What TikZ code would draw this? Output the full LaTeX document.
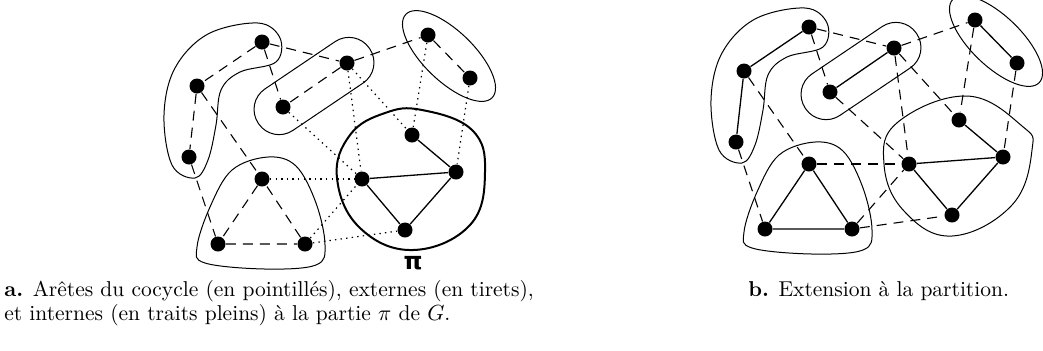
\documentclass[tikz,border=0pt]{standalone}
\usepackage{fontspec}
\newfontfamily\grecfont{DejaVu Sans}
\tikzset{
  sommet/.style={circle,fill=black,inner sep=0pt,minimum size=7.5pt},
  tiret/.style={line width=.55pt,dash pattern=on 5pt off 3.5pt},
  pointille/.style={line width=.6pt,dash pattern=on .7pt off 2.1pt},
  plein/.style={line width=.65pt},
  bulle/.style={line width=.5pt},
  legende/.style={anchor=base west,inner sep=0pt,font=\fontsize{10.75}{13}\selectfont}
}

\begin{document}
\begin{tikzpicture}[x=0.5pt,y=-0.5pt]
\useasboundingbox (0,0) rectangle (1043,350);
% les deux figures : sommets et bulles des parties
\foreach \s/\dx/\dy in {g/0/0,d/547/-15}{
  \begin{scope}[shift={(\dx,\dy)}]
  \foreach \p/\x/\y in {a1/262/42,a2/197/86,a3/189/157,b1/347/63,b2/283/107,c1/428/35,c2/470/78,
                        d1/262/179,d2/218/244,d3/305/244,p1/412/135,p2/456/172,p3/362/179,p4/405/230}
    \node[sommet] (\s\p) at (\x,\y) {};
  \draw[bulle] plot[smooth cycle,tension=.6] coordinates {(258,23) (280,38) (276,62) (240,72) (221,90)
    (216,125) (208,160) (195,178) (172,165) (164,115) (175,68) (208,34)};
  \draw[bulle,rounded corners=12.3pt,rotate around={34:(314,86)}] (247,61) rectangle (381,111);
  \draw[bulle,rotate around={-44:(449,56)}] (449,56) ellipse [x radius=60,y radius=25];
  \draw[bulle] plot[smooth cycle,tension=.6] coordinates {(268,157) (296,166) (316,203) (325,245)
    (316,265) (265,269) (205,263) (197,247) (210,207) (232,170)};
  \end{scope}
}
% partie pi
\draw[line width=1pt] plot[smooth cycle,tension=.7] coordinates {(422,110) (472,130) (485,172) (470,225)
  (413,250) (360,228) (337,178) (350,135) (385,113)};
\draw[bulle] plot[smooth cycle,tension=.7] coordinates {(967,96) (1022,126) (1032,150) (1012,205)
  (952,236) (904,211) (884,164) (898,122)};
\node (pi) at (413,263) {\grecfont\bfseries\fontsize{12}{14}\selectfont π};

% a. : aretes de la premiere figure
\draw[tiret] (ga1) -- (ga2) -- (ga3);
\draw[tiret] (gb1) -- (gb2);
\draw[tiret] (gc1) -- (gc2);
\draw[tiret] (gd1) -- (gd2) -- (gd3) -- (gd1);
\draw[tiret] (ga1) -- (gb1) -- (gc1);
\draw[tiret] (ga1) -- (gb2);
\draw[tiret] (ga2) -- (gd1);
\draw[tiret] (ga3) -- (gd2);
\foreach \u/\v in {b1/p3,b1/p1,b2/p3,c1/p1,c2/p2,d1/p3,d3/p3,d3/p4}
  \draw[pointille] (g\u) -- (g\v);
\draw[plein] (gp1) -- (gp2) -- (gp3) -- (gp4) -- (gp2);

% b. : extension a la partition
\draw[plein] (da1) -- (da2) -- (da3);
\draw[plein] (db1) -- (db2);
\draw[plein] (dc1) -- (dc2);
\draw[plein] (dd1) -- (dd2) -- (dd3) -- (dd1);
\draw[plein] (dp1) -- (dp2) -- (dp3) -- (dp4) -- (dp2);
\foreach \u/\v in {a1/b1,b1/c1,a1/b2,a2/d1,a3/d2,b1/p3,b1/p1,b2/p3,c1/p1,c2/p2,d1/p3,d3/p3,d3/p4}
  \draw[tiret] (d\u) -- (d\v);

% legendes
\node[legende] (lega1) at (4,296) {\textbf{a.} Arêtes du cocycle (en pointillés), externes (en tirets),};
\node[legende] (lega2) at (4,320) {et internes (en traits pleins) à la partie $\pi$ de $G$.};
\node[legende] (legb) at (748,296) {\textbf{b.} Extension à la partition.};
\end{tikzpicture}
\end{document}
